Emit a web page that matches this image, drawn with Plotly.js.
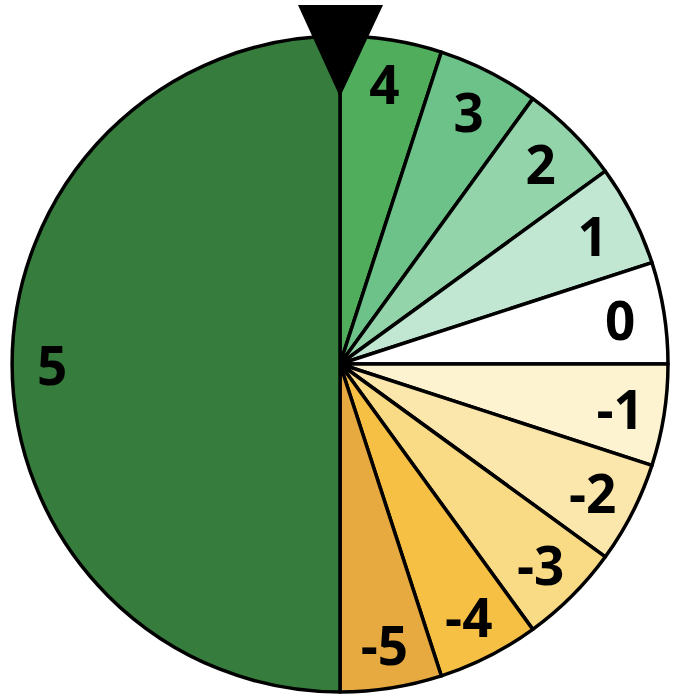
<!DOCTYPE html>
<html>
<head>
<meta charset="utf-8">
<script src="https://cdn.plot.ly/plotly-3.0.1.min.js"></script>
<style>html,body{margin:0;padding:0;background:#fff;}#chart{width:678px;height:700px;}</style>
</head>
<body>
<div id="chart"></div>
<script>
const labels = ["4", "3", "2", "1", "0", "-1", "-2", "-3", "-4", "-5", "5"];
const values = [1, 1, 1, 1, 1, 1, 1, 1, 1, 1, 10];
const colors = ["#50ad5c", "#6dc28a", "#94d4aa", "#c1e7d2", "#ffffff", "#fdf3d1", "#fbe7ab", "#f9db85", "#f5c044", "#e6aa40", "#367c3d"];

// the big slice's label sits near its outer edge: pad it on the right so the centred text box shifts left
const shownText = labels.map(function (l, i) {
  return values[i] > 1 ? l + "\u00a0".repeat(18) : l;
});

const trace = {
  type: "pie",
  labels: labels,
  values: values,
  text: shownText,
  textinfo: "text",
  textposition: "inside",
  insidetextorientation: "horizontal",
  sort: false,
  direction: "clockwise",
  rotation: 0,
  hole: 0,
  marker: { colors: colors, line: { color: "#000000", width: 3.5 } },
  textfont: { family: "Open Sans", size: 53, color: "#000000", weight: 700 },
  showlegend: false
};

const layout = {
  width: 678, height: 700,
  margin: { l: 12, r: 10, t: 36, b: 8, pad: 0 },
  paper_bgcolor: "#ffffff",
  showlegend: false,
  shapes: [{
    type: "path", xref: "paper", yref: "paper",
    path: "M " + ((298-12)/656) + " " + ((692-5)/656) + " L " + ((383-12)/656) + " " + ((692-5)/656) + " L " + ((340-12)/656) + " " + ((692-97)/656) + " Z",
    fillcolor: "#000000", line: { width: 0 }, layer: "above"
  }]
};

Plotly.newPlot("chart", [trace], layout, { displayModeBar: false, staticPlot: true });
</script>
</body>
</html>
